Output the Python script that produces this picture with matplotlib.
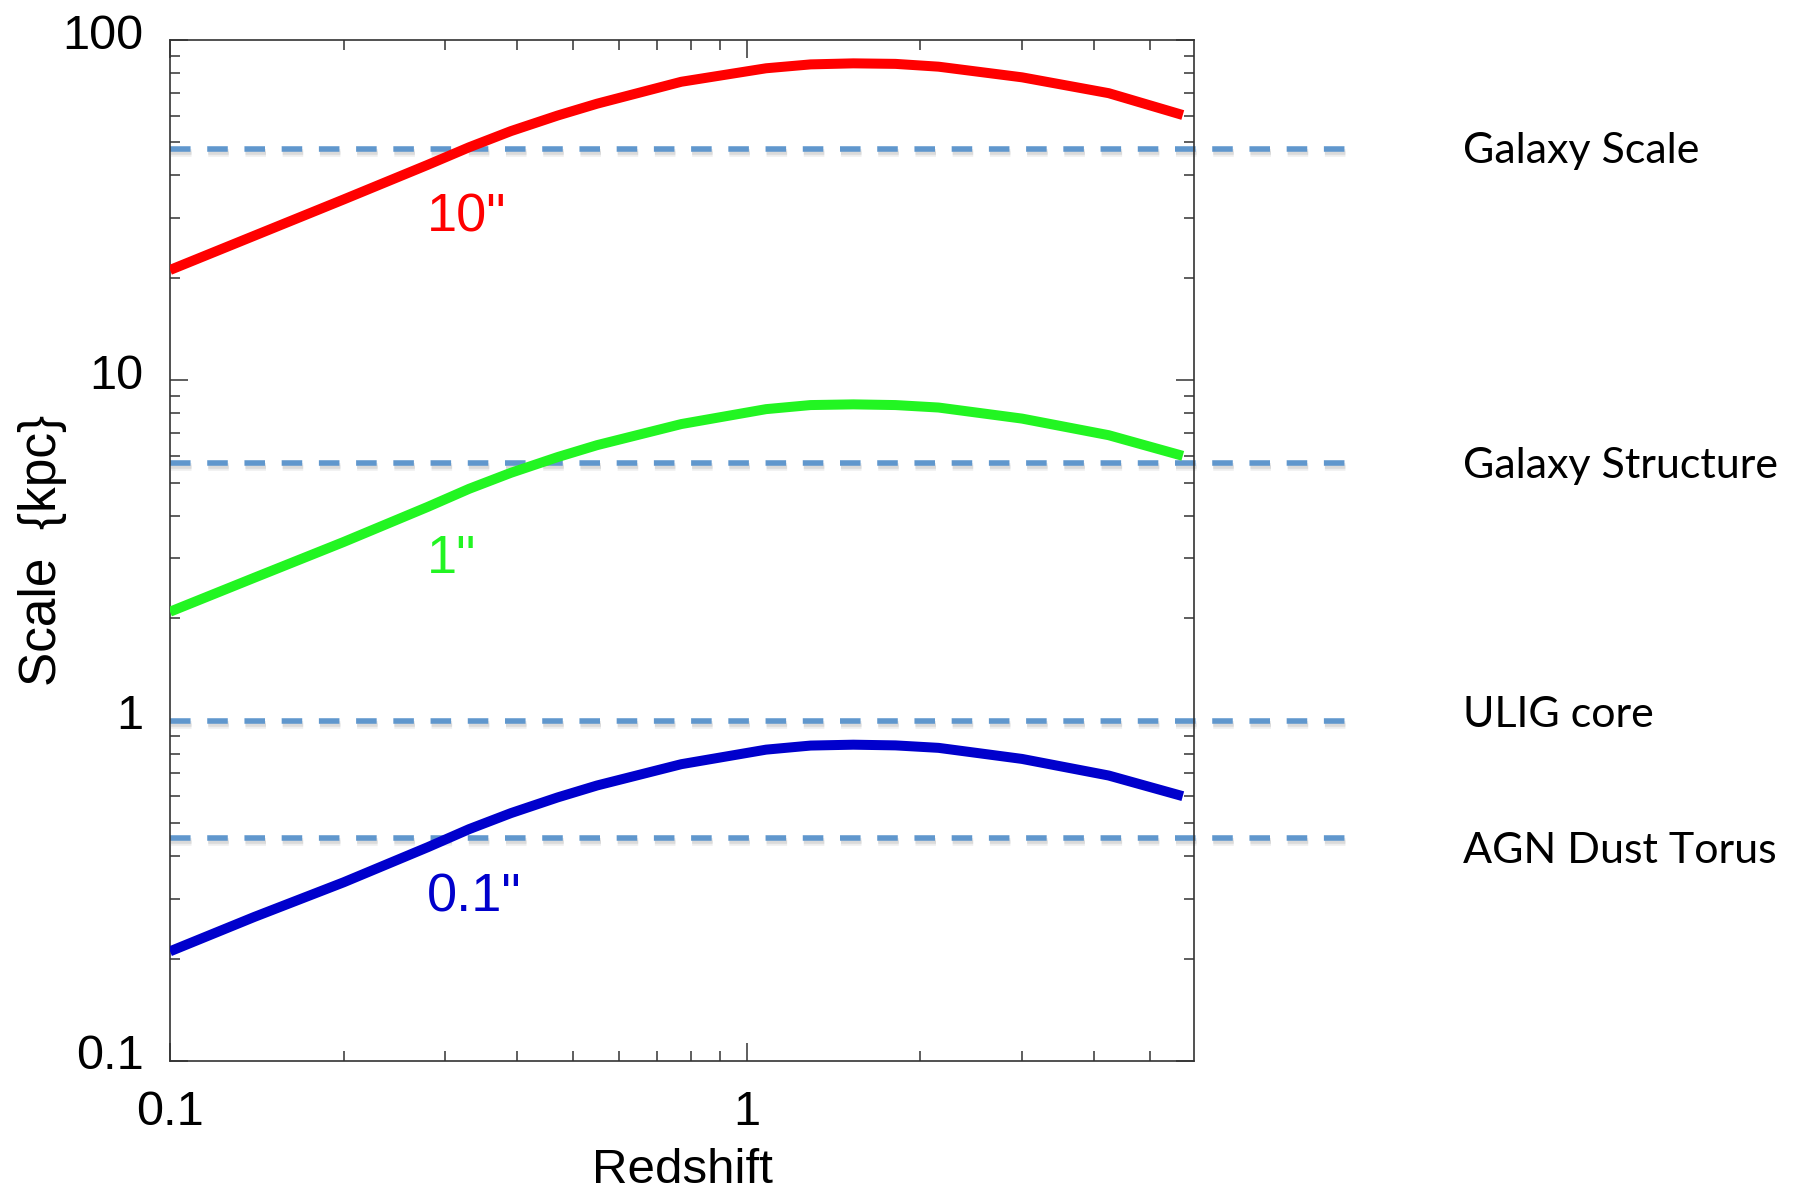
import numpy as np
import matplotlib
matplotlib.use('Agg')
import matplotlib.pyplot as plt
import matplotlib.patheffects as pe
import matplotlib.transforms as mtransforms
from matplotlib.ticker import FixedLocator, FixedFormatter, LogLocator, NullFormatter

# redshift sample points
z = [0.1, 0.14, 0.2, 0.28, 0.33, 0.39, 0.47, 0.55, 0.77, 1.08, 1.29, 1.53, 1.81, 2.15, 3.0, 4.24, 5.7]
# kpc subtended by 10", 1" and 0.1"
scale_10 = [21.1, 26.6, 34.0, 43.0, 48.4, 54.0, 60.0, 65.0, 75.4, 82.6, 84.8, 85.4, 85.1, 83.5, 77.7, 69.8, 60.2]
scale_1 = [2.09, 2.63, 3.35, 4.25, 4.8, 5.35, 5.95, 6.45, 7.44, 8.23, 8.46, 8.5, 8.46, 8.32, 7.72, 6.9, 6.0]
scale_01 = [0.21, 0.265, 0.335, 0.425, 0.48, 0.535, 0.595, 0.645, 0.745, 0.822, 0.845, 0.85, 0.846, 0.832,
            0.772, 0.69, 0.60]

curve_labels = ['10"', '1"', '0.1"']
curve_label_y = [27.3, 2.72, 0.275]
curve_colors = ['#ff0000', '#22f522', '#0000cc']

ref_names = ['Galaxy Scale', 'Galaxy Structure', 'ULIG core', 'AGN Dust Torus']
ref_values = [47.7, 5.72, 1.0, 0.453]
ref_label_y = [43.4, 5.16, 0.955, 0.383]

xticks = [0.1, 1]
xticklabels = ['0.1', '1']
yticks = [0.1, 1, 10, 100]
yticklabels = ['0.1', '1', '10', '100']

SANS = 'Liberation Sans'

fig = plt.figure(figsize=(17.98, 11.93), dpi=100)
ax = fig.add_axes([0.09455, 0.11065, 0.5695, 0.8558])

# dashed reference scales, running past the right edge of the axes
dash_color = '#6097cd'
shadow = [pe.SimpleLineShadow(offset=(0.6, -2.2), shadow_color='#808080', alpha=0.18),
          pe.SimpleLineShadow(offset=(0.8, -3.6), shadow_color='#808080', alpha=0.13),
          pe.Normal()]
for v in ref_values:
    ax.plot([0.1, 11.0], [v, v], color=dash_color, lw=4.0, linestyle=(0, (3.7, 3.0)),
            dash_capstyle='butt', clip_on=False, path_effects=shadow, zorder=2)

for vals, c in zip([scale_10, scale_1, scale_01], curve_colors):
    ax.plot(z, vals, color=c, lw=7.2, solid_capstyle='butt', solid_joinstyle='round', zorder=3)

for lab, y, c in zip(curve_labels, curve_label_y, curve_colors):
    ax.text(0.279, y, lab, color=c, fontsize=39, family=SANS, ha='left', va='baseline')

for name, y in zip(ref_names, ref_label_y):
    ax.text(1.263, y, name, transform=ax.get_yaxis_transform(), fontsize=31, family='Lato',
            ha='left', va='baseline', clip_on=False)

ax.set_xscale('log')
ax.set_yscale('log')
ax.set_xlim(0.1, 5.96)
ax.set_ylim(0.1, 100)

ax.xaxis.set_major_locator(FixedLocator(xticks))
ax.xaxis.set_major_formatter(FixedFormatter(xticklabels))
ax.yaxis.set_major_locator(FixedLocator(yticks))
ax.yaxis.set_major_formatter(FixedFormatter(yticklabels))
ax.xaxis.set_minor_locator(LogLocator(base=10, subs=np.arange(2, 10)))
ax.yaxis.set_minor_locator(LogLocator(base=10, subs=np.arange(2, 10)))
ax.xaxis.set_minor_formatter(NullFormatter())
ax.yaxis.set_minor_formatter(NullFormatter())

edge = '#333333'
for sp in ax.spines.values():
    sp.set_color(edge)
    sp.set_linewidth(1.2)
ax.tick_params(which='both', direction='in', top=True, right=True, color=edge, width=1.1)
ax.tick_params(which='major', length=13, labelsize=35)
ax.tick_params(which='minor', length=7)
ax.tick_params(axis='x', which='major', pad=21)
ax.tick_params(axis='y', which='major', pad=19)
for t in ax.get_xticklabels() + ax.get_yticklabels():
    t.set_family(SANS)

# y tick labels in the source sit a little above their ticks
lift = mtransforms.ScaledTranslation(0, 9 / 100, fig.dpi_scale_trans)
for tk in ax.yaxis.get_major_ticks():
    tk.label1.set_transform(tk.label1.get_transform() + lift)

ax.set_xlabel('Redshift', fontsize=35.5, family=SANS, labelpad=9)
ax.set_ylabel('Scale  {kpc}', fontsize=37, family=SANS)
ax.yaxis.set_label_coords(-0.101, 0.5)

fig.savefig('out.png', dpi=100)
